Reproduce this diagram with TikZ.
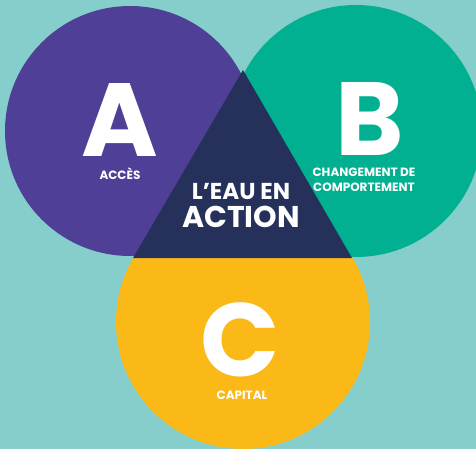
\documentclass[tikz,border=0pt]{standalone}
\usepackage{fontspec}
\setmainfont{Poppins}
\usetikzlibrary{positioning}

\definecolor{fond}{RGB}{134,206,204}
\definecolor{violetA}{RGB}{79,63,151}
\definecolor{vertB}{RGB}{0,176,145}
\definecolor{jauneC}{RGB}{251,185,23}
\definecolor{bleuT}{RGB}{37,49,91}

\begin{document}
\begin{tikzpicture}[x=1pt,y=-1pt,
 rond/.style={circle, minimum size=#1, inner sep=0pt},
 lettre/.style={text=white, inner sep=0pt, anchor=base, text depth=0pt, font=\bfseries\fontsize{104}{104}\selectfont},
 etiquette/.style={text=white, inner sep=0pt, align=center, font=\bfseries\fontsize{12}{15}\selectfont}]
 \fill[fond] (0,0) rectangle (476,449);
 \useasboundingbox (0,0) rectangle (476,449);
%cercles
 \node[rond=254pt, fill=jauneC] (cC) at (243,322) {};
 \node[rond=250pt, fill=violetA] (cA) at (130,131) {};
 \node[rond=252pt, fill=vertB] (cB) at (356,131) {};
%triangle central
 \fill[bleuT] (243,70) coordinate (T1) -- (133,258) coordinate (T2) -- (352,258) coordinate (T3) -- cycle;
%lettres et etiquettes
 \node[lettre] (A) at (120,157) {A};
 \node[etiquette, anchor=base, text depth=0pt] (acces) at (120,179) {ACCÈS};
 \node[lettre] (B) at (370,156) {B};
 \node[etiquette, anchor=north] (comp) at (364,168) {CHANGEMENT DE\\COMPORTEMENT};
 \node[lettre] (C) at (240,376) {C};
 \node[etiquette, anchor=base, text depth=0pt] (capital) at (242,399) {CAPITAL};
 \node[text=white, inner sep=0pt, align=center, anchor=north, font=\bfseries\fontsize{23}{28}\selectfont]
  (titre) at (241,183) {L’EAU EN\\{\fontsize{30}{30}\selectfont ACTION}};
\end{tikzpicture}
\end{document}
